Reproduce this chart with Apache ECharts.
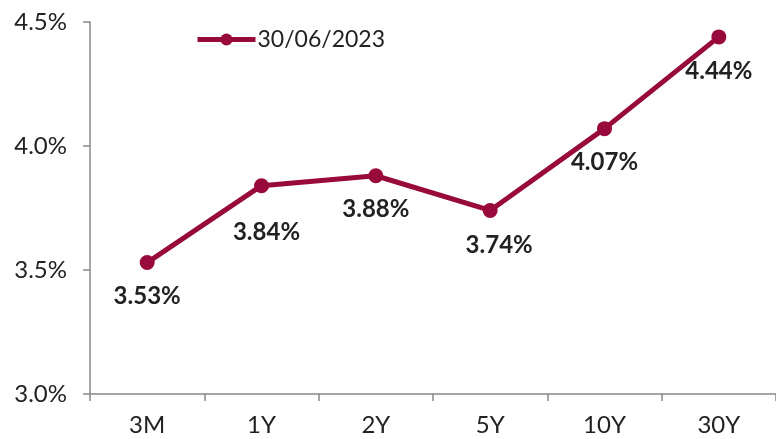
<!DOCTYPE html>
<html>
<head>
<meta charset="utf-8">
<script src="https://cdn.jsdelivr.net/npm/echarts@6/dist/echarts.min.js"></script>
<style>
  html, body { margin: 0; padding: 0; background: #fff; }
  #chart { width: 776px; height: 439px; }
</style>
</head>
<body>
<div id="chart"></div>
<script>
const tenors = ["3M", "1Y", "2Y", "5Y", "10Y", "30Y"];
const yields = [3.53, 3.84, 3.88, 3.74, 4.07, 4.44];
const labelOffsets = [[0, 0], [5, 13], [0, 0], [9, 1], [0, 0], [0, 1]];
const seriesName = "30/06/2023";

const chart = echarts.init(document.getElementById("chart"));
const font = "Lato, 'Open Sans', sans-serif";

chart.setOption({
  animation: false,
  textStyle: { fontFamily: font },
  grid: { left: 90, right: 0, top: 22, bottom: 45 },
  legend: {
    data: [seriesName],
    left: 190,
    top: 23,
    itemWidth: 58,
    itemHeight: 15,
    itemGap: 4,
    lineStyle: { width: 5 },
    textStyle: { fontSize: 23, color: "#222", fontFamily: font, padding: [0, 0, 0, -3] },
  },
  xAxis: {
    type: "category",
    data: tenors,
    boundaryGap: true,
    axisLine: { lineStyle: { color: "#888", width: 1.5 } },
    axisTick: { show: true, length: 7, lineStyle: { color: "#888", width: 1.5 } },
    axisLabel: { fontSize: 24, color: "#222", margin: 19, fontFamily: font },
  },
  yAxis: {
    type: "value",
    min: 3.0,
    max: 4.5,
    interval: 0.5,
    axisLine: { show: true, lineStyle: { color: "#888", width: 1.5 } },
    axisTick: { show: true, length: 7, lineStyle: { color: "#888", width: 1.5 } },
    splitLine: { show: false },
    axisLabel: {
      fontSize: 24,
      color: "#222",
      margin: 23,
      fontFamily: font,
      formatter: (v) => v.toFixed(1) + "%",
    },
  },
  series: [
    {
      name: seriesName,
      type: "line",
      data: yields.map((v, i) => ({
        value: v,
        label: { offset: labelOffsets[i] },
      })),
      symbol: "circle",
      symbolSize: 15,
      lineStyle: { color: "#990a3c", width: 5 },
      itemStyle: { color: "#990a3c" },
      label: {
        show: true,
        position: "bottom",
        distance: 14,
        fontSize: 24,
        fontWeight: "bold",
        color: "#222",
        fontFamily: font,
        formatter: (p) => p.value.toFixed(2) + "%",
      },
    },
  ],
});
</script>
</body>
</html>
